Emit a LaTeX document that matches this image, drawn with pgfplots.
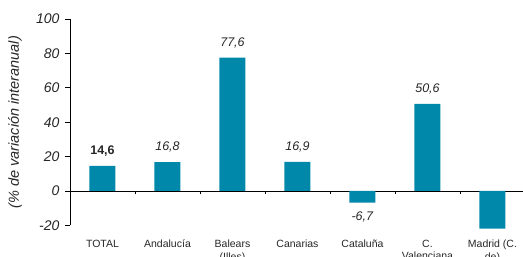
\documentclass[border=0pt]{standalone}
\usepackage{pgfplots}
\pgfplotsset{compat=1.18}
\usepackage{fontspec}
\setmainfont{Liberation Sans}
\definecolor{barblue}{RGB}{0,136,170}
\begin{document}
\begin{tikzpicture}
\begin{axis}[
  at={(0pt,0pt)}, anchor=south west,
  width=455pt, height=206.4pt, scale only axis,
  xmin=-0.5, xmax=6.5, ymin=-20, ymax=100,
  axis x line=middle, axis y line=left,
  axis line style={-, black, line width=0.8pt},
  hide obscured x ticks=false, hide obscured y ticks=false,
  tick align=outside,
  xtick={0,...,6},
  major x tick style={draw=none},
  minor xtick={0.5,1.5,...,5.5},
  minor tick length=3.5pt,
  major tick length=4.5pt,
  tick style={black, line width=0.6pt},
  ytick={-20,0,20,40,60,80,100},
  xticklabels={TOTAL, Andalucía, {Balears\\(Illes)}, Canarias, Cataluña, {C.\\Valenciana}, {Madrid (C.\\de)}},
  xticklabel style={font=\fontsize{10.5}{12.5}\selectfont, align=center, anchor=north, yshift=-41pt, text=black!85},
  /pgf/number format/assume math mode=true,
  yticklabel style={font=\fontsize{14}{15}\selectfont\itshape, text=black!85, xshift=-2.5pt},
  ylabel={(\% de variación interanual)},
  ylabel style={at={(axis description cs:-0.1209,0.5)}, anchor=center, font=\fontsize{14.5}{16}\selectfont\itshape, text=black!85},
  clip=false,
]
\addplot[ybar, bar width=26pt, fill=barblue, draw=none,
  point meta=explicit symbolic,
  visualization depends on={rawy \as \rawy},
  nodes near coords,
  every node near coord/.style={anchor=center, font=\fontsize{12.5}{14}\selectfont, text=black!85, yshift={(\rawy>0)*29.5-14.5}},
] coordinates {
  (0,14.6) [\textbf{14,6}]
  (1,16.8) [\textit{16,8}]
  (2,77.6) [\textit{77,6}]
  (3,16.9) [\textit{16,9}]
  (4,-6.7) [\textit{-6,7}]
  (5,50.6) [\textit{50,6}]
  (6,-21.9) []
};
\end{axis}
\pgfresetboundingbox
\path[use as bounding box] (-70pt,-31.6pt) rectangle (453pt,225.4pt);
\end{tikzpicture}
\end{document}
